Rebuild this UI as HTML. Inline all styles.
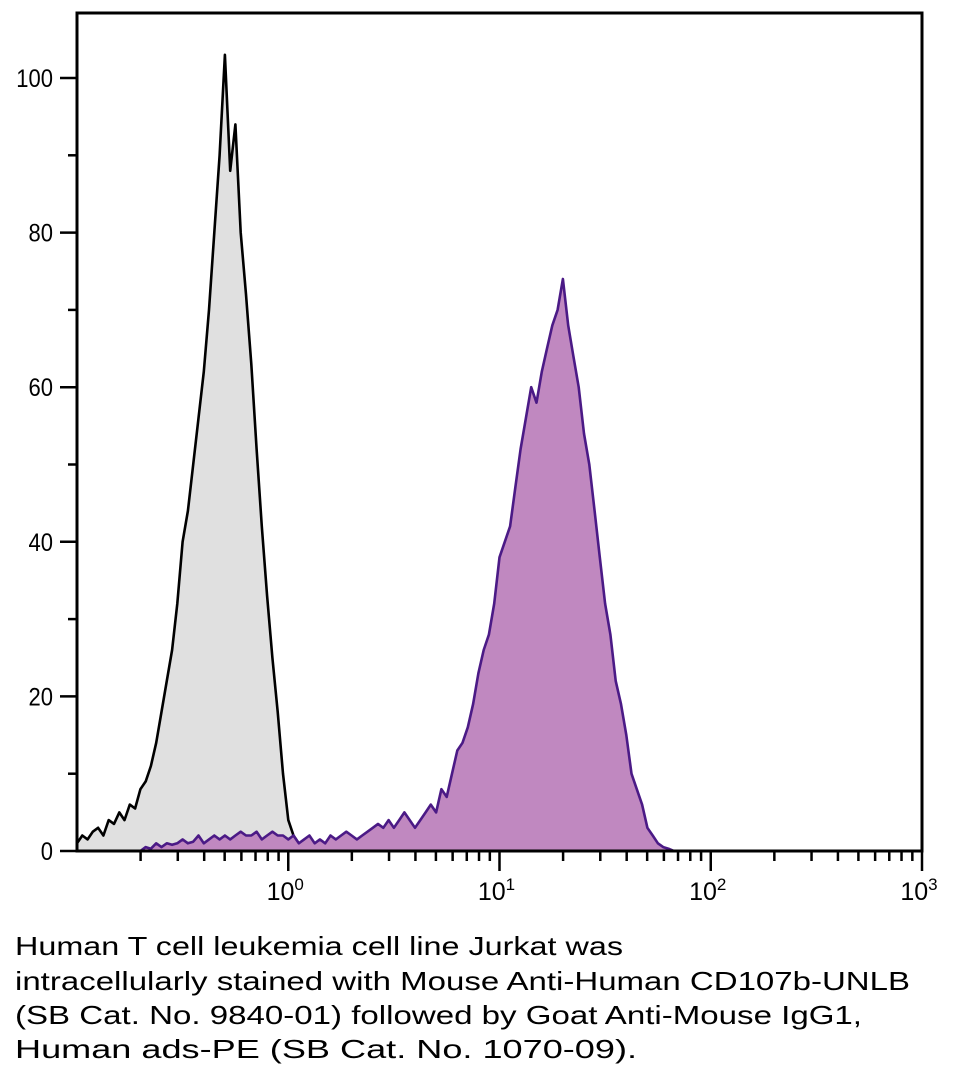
<!DOCTYPE html>
<html><head><meta charset="utf-8"><style>
body{margin:0;background:#fff}
svg{display:block}
text{font-family:"Liberation Sans",sans-serif}
</style></head><body>
<svg id="chart" width="955" height="1084" viewBox="0 0 955 1084" xmlns="http://www.w3.org/2000/svg">
<g id="plot"></g>
<g font-size="26" fill="#000">
<text x="15" y="955" textLength="608" lengthAdjust="spacingAndGlyphs">Human T cell leukemia cell line Jurkat was</text>
<text x="15" y="990" textLength="895" lengthAdjust="spacingAndGlyphs">intracellularly stained with Mouse Anti-Human CD107b-UNLB</text>
<text x="15" y="1024" textLength="847" lengthAdjust="spacingAndGlyphs">(SB Cat. No. 9840-01) followed by Goat Anti-Mouse IgG1,</text>
<text x="15" y="1058" textLength="622" lengthAdjust="spacingAndGlyphs">Human ads-PE (SB Cat. No. 1070-09).</text>
</g>
</svg>
<script>
const yTicks=[0,20,40,60,80,100];
const xDecades=[0,1,2,3];
const greyStart=-1.0, greyStep=0.025;
const greyValues=[1,2,1.5,2.5,3,2,4,3.5,5,4,6,5.5,8,9,11,14,18,22,26,32,40,44,50,56,62,70,80,90,103,88,94,80,72,63,52,42,33,25,18,10,4,2,1,0.5,0.3,0.2,0];
const purpleStart=-0.7, purpleStep=0.025;
const purpleValues=[0,0.5,0.3,1,0.5,1,0.8,1,1.5,1,1.2,2,1,1.5,2,1.5,2,1.5,2,2.5,2,2,2.5,1.5,2,2.5,2,2,1.5,2,1,1.5,2,1,1.5,1,2,1.5,2,2.5,2,1.5,2,2.5,3,3.5,3,4,3,4,5,4,3,4,5,6,5,8,7,10,13,14,16,19,23,26,28,32,38,40,42,47,52,56,60,58,62,65,68,70,74,68,64,60,54,50,44,38,32,28,22,19,15,10,8,6,3,2,1,0.5,0.3,0];

const L=77,R=922,T=13,B=851;
const X=lg=>L+(lg-(-1))/4*(R-L);
const Y=v=>B-v/100*(B-78);
const NS="http://www.w3.org/2000/svg";
const g=document.getElementById('plot');
function mk(tag,attrs){const e=document.createElementNS(NS,tag);for(const k in attrs)e.setAttribute(k,attrs[k]);g.appendChild(e);return e;}
function series(start,step,vals,fill,stroke,name){
  let pts=vals.map((v,i)=>[X(start+i*step),Y(v)]);
  let d='M'+pts[0][0]+','+B+' '+pts.map(p=>'L'+p[0].toFixed(1)+','+p[1].toFixed(1)).join(' ')+' L'+pts[pts.length-1][0]+','+B+'Z';
  const a=mk('path',{d:d,fill:fill,stroke:'none'});
  
  
  const l=mk('path',{d:'M'+pts.map(p=>p[0].toFixed(1)+','+p[1].toFixed(1)).join(' L'),fill:'none',stroke:stroke,'stroke-width':2.6,'stroke-linejoin':'round'});
  
  
}
series(greyStart,greyStep,greyValues,'#e0e0e0','#000','isotype-histogram');
series(purpleStart,purpleStep,purpleValues,'#c088c0','#4b1a86','cd107b-histogram');
const frame=mk('path',{d:`M${L},${B} L${L},${T} L${R},${T} L${R},${B} Z`,fill:'none',stroke:'#000','stroke-width':3});


for(let v=0;v<=100;v+=10){
  const major=v%20===0;
  const t=mk('line',{x1:major?60:68,x2:L,y1:Y(v),y2:Y(v),stroke:'#000','stroke-width':2.5});
  
  
}
yTicks.forEach(v=>{
  const t=mk('text',{x:53,y:Y(v)+9,'text-anchor':'end','font-size':25,transform:`translate(53,0) scale(0.88,1) translate(-53,0)`});
  t.textContent=v;
  
  
});
for(let d=-1;d<3;d++){
  for(let m=1;m<10;m++){
    const lg=d+Math.log10(m);
    if(lg<=-1)continue;
    const t=mk('line',{x1:X(lg),x2:X(lg),y1:B,y2:B+(m===1?20:10),stroke:'#000','stroke-width':2.5});
    
    
  }
}
const last=mk('line',{x1:X(3),x2:X(3),y1:B,y2:B+20,stroke:'#000','stroke-width':2.5});


xDecades.forEach(d=>{
  const t=mk('text',{x:X(d)-3,y:900,'text-anchor':'middle','font-size':25});
  t.innerHTML='10<tspan dy="-10" font-size="17">'+d+'</tspan>';
  
  
});
</script>
</body></html>
